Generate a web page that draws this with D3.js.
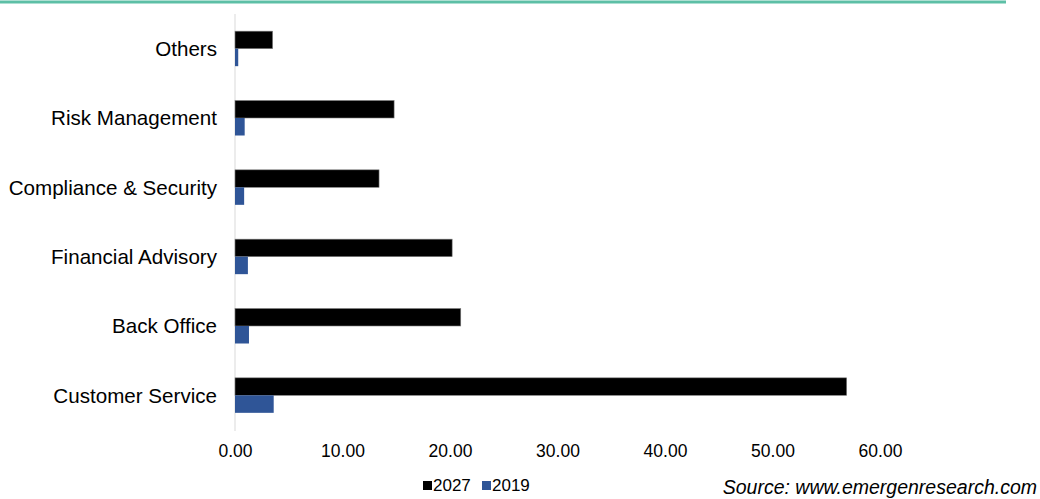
<!DOCTYPE html>
<html>
<head>
<meta charset="utf-8">
<script src="https://cdn.jsdelivr.net/npm/d3@7"></script>
<style>
  body { margin: 0; background: #fff; }
  svg { display: block; font-family: "Liberation Sans", Arial, sans-serif; }
</style>
</head>
<body>
<div class="board"></div>
<script>
var W = 1040, H = 499

var categories = ["Others", "Risk Management", "Compliance & Security", "Financial Advisory", "Back Office", "Customer Service"]
var values2027 = [3.5, 14.8, 13.4, 20.2, 21.0, 56.9]
var values2019 = [0.3, 0.9, 0.85, 1.2, 1.3, 3.6]
var xTicks = [0, 10, 20, 30, 40, 50, 60]
var seriesNames = ["2027", "2019"]
var seriesColors = ["#000000", "#2f5597"]

var svg = d3.select(".board")
    .append("svg")
    .attr("width", W)
    .attr("height", H)

// teal rule across the top
svg.append("line")
    .attr("x1", 0).attr("x2", 1006)
    .attr("y1", 2).attr("y2", 2)
    .attr("stroke", "#5dbfa6")
    .attr("stroke-width", 3)

let xScale = d3.scaleLinear()
    .domain([0, 60])
    .range([235, 880])

let yScale = d3.scaleBand()
    .domain(categories)
    .range([14, 430])

let inner = d3.scaleBand()
    .domain(seriesNames)
    .range([yScale.bandwidth() / 2 - 17.5, yScale.bandwidth() / 2 + 17.5])

// axis line
svg.append("line")
    .attr("x1", xScale(0)).attr("x2", xScale(0))
    .attr("y1", 14).attr("y2", 431)
    .attr("stroke", "#d9d9d9")

var rows = categories.map((c, i) => ({ cat: c, v: [values2027[i], values2019[i]] }))

rows.forEach(r => {
    seriesNames.forEach((s, j) => {
        svg.append("rect")
            .attr("x", xScale(0))
            .attr("y", yScale(r.cat) + inner(s))
            .attr("width", xScale(r.v[j]) - xScale(0))
            .attr("height", inner.bandwidth())
            .attr("fill", seriesColors[j])
            .attr("stroke", j == 0 ? "#7f7f7f" : "none")
            .attr("stroke-width", 0.6)
    })
})

// category labels
svg.selectAll(".cat")
    .data(categories)
    .enter()
    .append("text")
    .attr("x", 217)
    .attr("y", d => yScale(d) + yScale.bandwidth() / 2)
    .attr("dy", "0.36em")
    .attr("text-anchor", "end")
    .attr("font-size", 20.6)
    .attr("fill", "#000")
    .text(d => d)

// x tick labels
var xAxis = svg.append("g")
    .attr("transform", "translate(0, 431)")
    .call(d3.axisBottom(xScale).tickValues(xTicks).tickSize(0).tickPadding(14).tickFormat(d3.format(".2f")))
xAxis.select(".domain").remove()
xAxis.selectAll("text")
    .attr("font-size", 17.5)
    .attr("font-family", "Liberation Sans, Arial, sans-serif")
    .attr("fill", "#000")

// legend
var lx = [423, 482]
seriesNames.forEach((s, j) => {
    svg.append("rect")
        .attr("x", lx[j]).attr("y", 481)
        .attr("width", 9).attr("height", 9)
        .attr("fill", seriesColors[j])
    svg.append("text")
        .attr("x", lx[j] + 10).attr("y", 491)
        .attr("font-size", 17)
        .attr("fill", "#000")
        .text(s)
})

svg.append("text")
    .attr("x", 1037).attr("y", 494)
    .attr("text-anchor", "end")
    .attr("font-size", 19.5)
    .attr("font-style", "italic")
    .attr("fill", "#000")
    .text("Source: www.emergenresearch.com")
</script>
</body>
</html>
